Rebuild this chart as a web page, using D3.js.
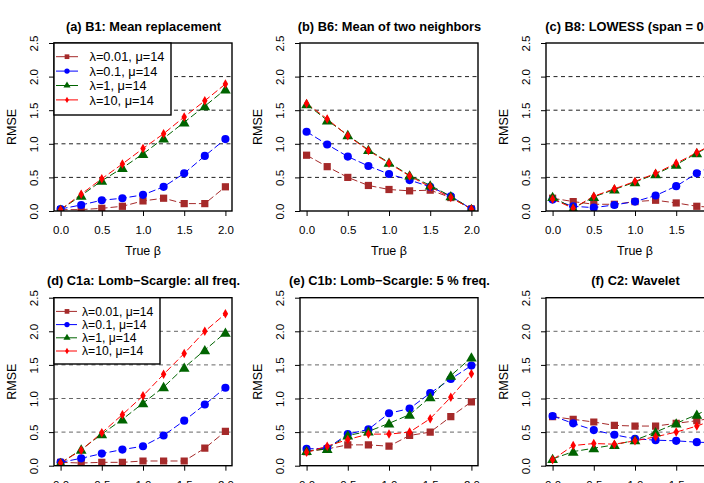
<!DOCTYPE html>
<html>
<head>
<meta charset="utf-8">
<script src="https://cdn.jsdelivr.net/npm/d3@7"></script>
<style>
  html, body { margin: 0; padding: 0; background: #fff; }
  svg { display: block; font-family: "Liberation Sans", Arial, Helvetica, sans-serif; }
</style>
</head>
<body>
<svg id="chart" width="704" height="483"></svg>
<script>
// ---- data ----
const betaValues = [0, 0.25, 0.5, 0.75, 1.0, 1.25, 1.5, 1.75, 2.0];
const xTickValues = [0, 0.5, 1.0, 1.5, 2.0];
const yTickValues = [0, 0.5, 1.0, 1.5, 2.0, 2.5];
const gridValues = [0.5, 1.0, 1.5, 2.0];
const seriesLabels = ["λ=0.01, μ=14", "λ=0.1, μ=14", "λ=1, μ=14", "λ=10, μ=14"];
const seriesColors = ["#A52A2A", "#0000FF", "#006400", "#FF0000"];
const seriesSymbols = ["square", "circle", "triangle", "diamond"];
const panelTitles = [
  "(a) B1: Mean replacement",
  "(b) B6: Mean of two neighbors",
  "(c) B8: LOWESS (span = 0.75)",
  "(d) C1a: Lomb\u2212Scargle: all freq.",
  "(e) C1b: Lomb\u2212Scargle: 5 % freq.",
  "(f) C2: Wavelet"
];

// RMSE per panel; rows = λ 0.01, 0.1, 1, 10
const rmseA = [
  [0.02, 0.02, 0.04, 0.07, 0.15, 0.19, 0.11, 0.11, 0.36],
  [0.03, 0.09, 0.16, 0.19, 0.24, 0.36, 0.56, 0.82, 1.07],
  [0.02, 0.23, 0.45, 0.64, 0.85, 1.08, 1.32, 1.56, 1.81],
  [0.02, 0.25, 0.48, 0.70, 0.93, 1.15, 1.40, 1.64, 1.89]
];
const rmseB = [
  [0.83, 0.66, 0.50, 0.38, 0.32, 0.30, 0.31, 0.20, 0.03],
  [1.18, 0.99, 0.81, 0.67, 0.55, 0.46, 0.36, 0.22, 0.03],
  [1.59, 1.35, 1.13, 0.91, 0.72, 0.53, 0.38, 0.22, 0.03],
  [1.60, 1.37, 1.12, 0.90, 0.71, 0.52, 0.36, 0.20, 0.03]
];
const rmseC = [
  [0.19, 0.14, 0.10, 0.10, 0.14, 0.16, 0.12, 0.07, 0.05],
  [0.17, 0.07, 0.05, 0.09, 0.14, 0.23, 0.37, 0.56, 0.72],
  [0.21, 0.04, 0.21, 0.32, 0.43, 0.55, 0.69, 0.86, 1.02],
  [0.18, 0.04, 0.22, 0.33, 0.44, 0.56, 0.71, 0.87, 1.03]
];
const rmseD = [
  [0.05, 0.04, 0.05, 0.05, 0.07, 0.07, 0.07, 0.26, 0.51],
  [0.05, 0.11, 0.18, 0.24, 0.29, 0.45, 0.67, 0.91, 1.16],
  [0.04, 0.24, 0.47, 0.69, 0.93, 1.17, 1.46, 1.72, 1.98],
  [0.04, 0.23, 0.49, 0.76, 1.04, 1.36, 1.67, 2.00, 2.26]
];
const rmseE = [
  [0.21, 0.25, 0.31, 0.31, 0.29, 0.45, 0.50, 0.73, 0.95],
  [0.25, 0.26, 0.47, 0.54, 0.78, 0.85, 1.08, 1.29, 1.49],
  [0.22, 0.25, 0.45, 0.51, 0.63, 0.76, 1.02, 1.34, 1.61],
  [0.20, 0.29, 0.39, 0.47, 0.47, 0.50, 0.70, 1.02, 1.37]
];
const rmseF = [
  [0.73, 0.69, 0.65, 0.60, 0.59, 0.59, 0.63, 0.67, 0.72],
  [0.74, 0.63, 0.53, 0.46, 0.40, 0.38, 0.37, 0.35, 0.34],
  [0.10, 0.21, 0.26, 0.31, 0.38, 0.50, 0.63, 0.76, 0.90],
  [0.09, 0.30, 0.33, 0.32, 0.37, 0.43, 0.50, 0.59, 0.70]
];
const panelData = [rmseA, rmseB, rmseC, rmseD, rmseE, rmseF];
const legendPanels = [0, 3];

// ---- layout ----
const svg = d3.select("#chart");
svg.append("rect").attr("width", 704).attr("height", 483).attr("fill", "#fff");

const boxW = 178, boxH = 168;
const colLeft = [54, 300, 546];
const rowTop = [43, 297.7];

const symbolGen = {
  square: d3.symbol().type(d3.symbolSquare).size(52),
  circle: d3.symbol().type(d3.symbolCircle).size(52),
  triangle: d3.symbol().type(d3.symbolTriangle).size(50),
  diamond: d3.symbol().type(d3.symbolDiamond).size(26)
};
const legendSymbolGen = {
  square: d3.symbol().type(d3.symbolSquare).size(22),
  circle: d3.symbol().type(d3.symbolCircle).size(22),
  triangle: d3.symbol().type(d3.symbolTriangle).size(22),
  diamond: d3.symbol().type(d3.symbolDiamond).size(12)
};

panelData.forEach((series, pi) => {
  const row = Math.floor(pi / 3), col = pi % 3;
  const left = colLeft[col], top = rowTop[row];
  const x = d3.scaleLinear().domain([-0.08, 2.08]).range([left, left + boxW]);
  const y = d3.scaleLinear().domain([0, 2.5]).range([top + boxH, top]);
  const g = svg.append("g");
  const gridColor = row === 0 ? "#222" : "#666";

  // clip to plot box
  const clipId = "clip" + pi;
  svg.append("clipPath").attr("id", clipId)
    .append("rect").attr("x", left).attr("y", top).attr("width", boxW).attr("height", boxH);

  // grid lines
  g.append("g").selectAll("line").data(gridValues).join("line")
    .attr("x1", left).attr("x2", left + boxW)
    .attr("y1", d => y(d)).attr("y2", d => y(d))
    .attr("stroke", gridColor).attr("stroke-width", 1)
    .attr("stroke-dasharray", "4,3.5");

  // series
  const plot = g.append("g").attr("clip-path", `url(#${clipId})`);
  const line = d3.line().x((d, i) => x(betaValues[i])).y(d => y(d));
  series.forEach((vals, si) => {
    plot.append("path").datum(vals)
      .attr("d", line)
      .attr("fill", "none")
      .attr("stroke", seriesColors[si])
      .attr("stroke-width", 1)
      .attr("stroke-dasharray", "7,3");
  });
  series.forEach((vals, si) => {
    plot.append("g").selectAll("path").data(vals).join("path")
      .attr("d", symbolGen[seriesSymbols[si]])
      .attr("transform", (d, i) => `translate(${x(betaValues[i])},${y(d) + (seriesSymbols[si] === "triangle" ? 1 : 0)})`)
      .attr("fill", seriesColors[si]);
  });

  // axes
  const xAxis = g.append("g").attr("transform", `translate(0,${top + boxH})`)
    .call(d3.axisBottom(x).tickValues(xTickValues).tickFormat(d3.format(".1f")).tickSize(5).tickPadding(10));
  xAxis.select(".domain").remove();
  xAxis.selectAll("text").attr("font-size", 11.5).attr("fill", "#000").attr("font-family", null);
  xAxis.selectAll("line").attr("stroke", "#000");

  const yAxis = g.append("g").attr("transform", `translate(${left},0)`)
    .call(d3.axisLeft(y).tickValues(yTickValues).tickFormat(d3.format(".1f")).tickSize(5));
  yAxis.select(".domain").remove();
  yAxis.selectAll("line").attr("stroke", "#000");
  yAxis.selectAll("text")
    .attr("x", null).attr("dy", null)
    .attr("transform", "translate(-16,0) rotate(-90)")
    .attr("text-anchor", "middle")
    .attr("font-size", 11.5).attr("fill", "#000").attr("font-family", null);

  // box
  g.append("rect").attr("x", left).attr("y", top).attr("width", boxW).attr("height", boxH)
    .attr("fill", "none").attr("stroke", "#000").attr("stroke-width", 1.4);

  // axis labels
  g.append("text")
    .attr("x", left + boxW / 2).attr("y", top + boxH + 43.5)
    .attr("text-anchor", "middle").attr("font-size", 12.5)
    .text("True \u03B2");
  g.append("text")
    .attr("transform", `translate(${left - 38.5},${top + boxH / 2}) rotate(-90)`)
    .attr("text-anchor", "middle").attr("font-size", 12.5)
    .text("RMSE");

  // title
  g.append("text")
    .attr("x", left + boxW / 2 + 0.5).attr("y", top - 12.5)
    .attr("text-anchor", "middle").attr("font-size", 12.8).attr("font-weight", "bold")
    .text(panelTitles[pi]);

  // legend
  if (legendPanels.includes(pi)) {
    const big = pi === 0;
    const lw = big ? 117 : 106, lh = big ? 72 : 66.3;
    const rowH = big ? 14.4 : 13.2;
    const fs = big ? 12.8 : 12.2;
    const textX = big ? 89.5 : 82;
    const lg = g.append("g");
    lg.append("rect").attr("x", left).attr("y", top).attr("width", lw).attr("height", lh)
      .attr("fill", "#fff").attr("stroke", "#000").attr("stroke-width", 1.4);
    seriesLabels.forEach((lab, si) => {
      const cy = top + 13.7 + si * rowH;
      lg.append("line").attr("x1", left + 2).attr("x2", left + (big ? 24 : 23))
        .attr("y1", cy).attr("y2", cy).attr("stroke", seriesColors[si]).attr("stroke-width", 1);
      lg.append("path").attr("d", legendSymbolGen[seriesSymbols[si]])
        .attr("transform", `translate(${left + 13},${cy})`).attr("fill", seriesColors[si]);
      lg.append("text").attr("x", textX).attr("y", cy + fs * 0.36)
        .attr("font-size", fs).text(lab);
    });
  }
});
</script>
</body>
</html>
